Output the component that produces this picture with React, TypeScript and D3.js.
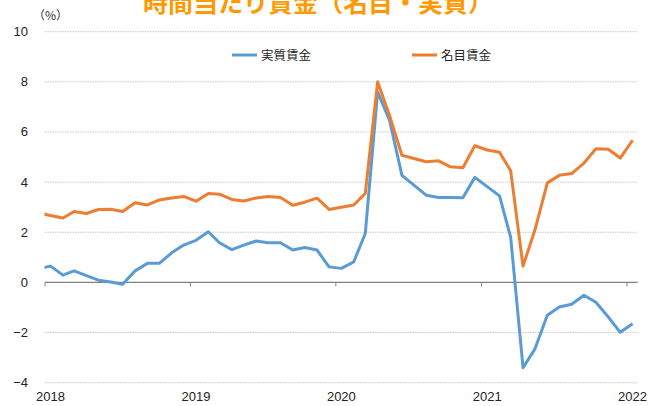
import React from "react";
import * as d3 from "d3";

const TITLE = "時間当たり賃金（名目・実質）";
const UNIT = "（%）";
const SERIES_NAMES = ["実質賃金", "名目賃金"];
const START_MONTH = new Date(2017, 11, 1);
const END_MONTH = new Date(2022, 1, 1);
const YEAR_LABELS = ["2018", "2019", "2020", "2021", "2022"];
const Y_TICKS = [-4, -2, 0, 2, 4, 6, 8, 10];

// Dec 2017 .. Jan 2022
const REAL = [
  0.54,
  0.65, 0.29, 0.46, 0.27, 0.09, 0.02, -0.07, 0.46, 0.76, 0.76, 1.18, 1.49,
  1.68, 2.02, 1.58, 1.31, 1.49, 1.65, 1.58, 1.58, 1.29, 1.39, 1.29, 0.62,
  0.56, 0.82, 1.95, 7.6, 6.46, 4.27, 3.88, 3.48, 3.39, 3.39, 3.38, 4.19,
  3.82, 3.45, 1.8, -3.4, -2.65, -1.31, -0.98, -0.87, -0.51, -0.79, -1.38, -1.99,
  -1.65,
];
const NOMINAL = [
  2.77,
  2.67, 2.57, 2.83, 2.75, 2.91, 2.92, 2.83, 3.18, 3.09, 3.29, 3.37, 3.43,
  3.24, 3.55, 3.52, 3.31, 3.25, 3.37, 3.43, 3.39, 3.08, 3.2, 3.36, 2.91,
  3.0, 3.09, 3.55, 8.0, 6.65, 5.07, 4.94, 4.81, 4.85, 4.61, 4.57, 5.45,
  5.28, 5.19, 4.45, 0.65, 2.1, 3.97, 4.27, 4.34, 4.76, 5.33, 5.31, 4.96,
  5.67,
];

const COLORS = ["#5B9BD5", "#ED7D31"];

export default function App() {
  const W = 649;
  const H = 406;
  const months = d3.timeMonth.range(START_MONTH, END_MONTH);
  const dates = months.map((m) => d3.timeDay.offset(m, 14));

  const x = d3
    .scaleTime()
    .domain([new Date(2018, 0, 1), new Date(2022, 0, 1)])
    .range([45, 627]);
  const y = d3.scaleLinear().domain([-4, 10]).range([382.7, 31.7]);
  const plotLeft = x(new Date(2018, 0, 1));
  const plotRight = x(new Date(2022, 0, 28));

  const line = d3
    .line<number>()
    .x((_, i) => x(dates[i]))
    .y((d) => y(d));

  const yearDates = YEAR_LABELS.map((yr) => new Date(+yr, 0, 1));
  const font = "'Liberation Sans', Arial, sans-serif";
  const cjk = "'Noto Sans CJK JP', 'Noto Sans', sans-serif";

  return (
    <svg
      width={W}
      height={H}
      style={{ position: "absolute", left: 0, top: 0, background: "#fff" }}
    >
      <defs>
        <clipPath id="plotclip">
          <rect x={plotLeft - 0.5} y={0} width={plotRight - plotLeft + 6} height={H} />
        </clipPath>
      </defs>
      <rect width={W} height={H} fill="#fff" />
      <text
        x={318}
        y={12}
        textAnchor="middle"
        fontFamily={cjk}
        fontWeight="bold"
        fontSize={25}
        fill="#FF9900"
      >
        {TITLE}
      </text>
      <text x={33} y={20} fontFamily={cjk} fontSize={12} fill="#333">
        {UNIT}
      </text>
      {Y_TICKS.filter((t) => t !== 0).map((t) => (
        <line
          key={"g" + t}
          x1={plotLeft}
          x2={plotRight}
          y1={y(t)}
          y2={y(t)}
          stroke="#c8c8c8"
          strokeWidth={1}
          strokeDasharray="1.5 1"
        />
      ))}
      {Y_TICKS.map((t) => (
        <text
          key={"yl" + t}
          x={28}
          y={y(t) + 4.5}
          textAnchor="end"
          fontFamily={font}
          fontSize={13}
          fill="#222"
        >
          {t < 0 ? "−" + Math.abs(t) : String(t)}
        </text>
      ))}
      <line
        x1={plotLeft}
        x2={plotRight}
        y1={y(0)}
        y2={y(0)}
        stroke="#808080"
        strokeWidth={1.2}
      />
      {yearDates.map((d, i) => (
        <line
          key={"t" + i}
          x1={x(d)}
          x2={x(d)}
          y1={y(0)}
          y2={y(0) + 4}
          stroke="#808080"
          strokeWidth={1}
        />
      ))}
      {yearDates.map((d, i) => (
        <text
          key={"xl" + i}
          x={x(d3.timeDay.offset(d, 14))}
          y={401}
          textAnchor="middle"
          fontFamily={font}
          fontSize={13}
          fill="#222"
        >
          {YEAR_LABELS[i]}
        </text>
      ))}
      <g clipPath="url(#plotclip)">
        {[REAL, NOMINAL].map((s, i) => (
          <path
            key={"s" + i}
            d={line(s) || ""}
            fill="none"
            stroke={COLORS[i]}
            strokeWidth={3}
            strokeLinejoin="round"
          />
        ))}
      </g>
      {SERIES_NAMES.map((name, i) => {
        const lx = 232 + i * 180;
        return (
          <g key={"lg" + i}>
            <line
              x1={lx}
              x2={lx + 25}
              y1={55}
              y2={55}
              stroke={COLORS[i]}
              strokeWidth={3}
            />
            <text
              x={lx + 29}
              y={59.5}
              fontFamily={cjk}
              fontSize={12.5}
              fill="#222"
            >
              {name}
            </text>
          </g>
        );
      })}
    </svg>
  );
}
